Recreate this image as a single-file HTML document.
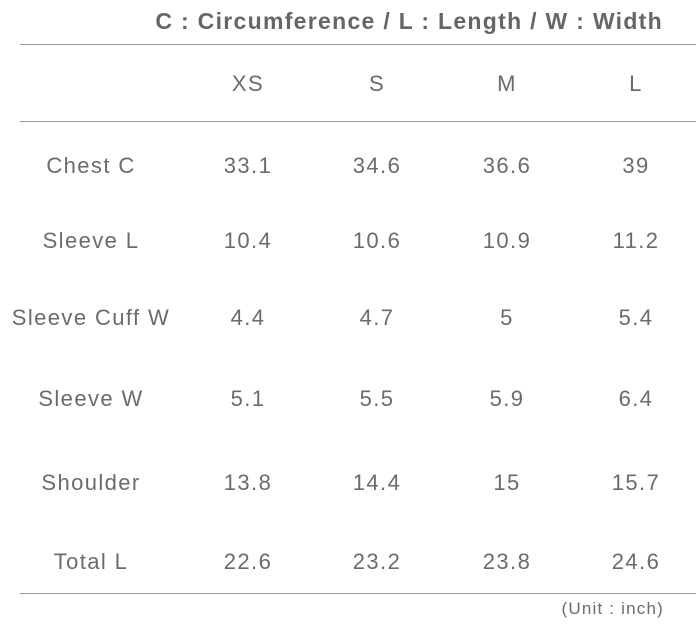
<!DOCTYPE html>
<html><head><meta charset="utf-8"><style>
body{margin:0;width:696px;height:630px;background:#fff;position:relative;overflow:hidden;font-family:"Liberation Sans","Noto Sans CJK KR",sans-serif;color:#6b6b6b}
.t{position:absolute;transform:translate(-50%,-50%);white-space:nowrap;font-size:22px;letter-spacing:1.4px}
.line{position:absolute;left:20px;width:676px;height:1px;background:#9a9a9a}
</style></head><body>
<div style="position:absolute;right:33px;top:8px;font-size:23px;font-weight:bold;color:#666;white-space:nowrap;letter-spacing:1.3px">C : Circumference / L : Length / W : Width</div>
<div class="line" style="top:44px"></div>
<div class="line" style="top:121px"></div>
<div class="line" style="top:593px"></div>
<div class="t" style="left:248px;top:84px">XS</div>
<div class="t" style="left:377px;top:84px">S</div>
<div class="t" style="left:507px;top:84px">M</div>
<div class="t" style="left:636px;top:84px">L</div>

<div class="t" style="left:91px;top:166px">Chest C</div>
<div class="t" style="left:248px;top:166px">33.1</div>
<div class="t" style="left:377px;top:166px">34.6</div>
<div class="t" style="left:507px;top:166px">36.6</div>
<div class="t" style="left:636px;top:166px">39</div>

<div class="t" style="left:91px;top:241px">Sleeve L</div>
<div class="t" style="left:248px;top:241px">10.4</div>
<div class="t" style="left:377px;top:241px">10.6</div>
<div class="t" style="left:507px;top:241px">10.9</div>
<div class="t" style="left:636px;top:241px">11.2</div>

<div class="t" style="left:91px;top:318px">Sleeve Cuff W</div>
<div class="t" style="left:248px;top:318px">4.4</div>
<div class="t" style="left:377px;top:318px">4.7</div>
<div class="t" style="left:507px;top:318px">5</div>
<div class="t" style="left:636px;top:318px">5.4</div>

<div class="t" style="left:91px;top:399px">Sleeve W</div>
<div class="t" style="left:248px;top:399px">5.1</div>
<div class="t" style="left:377px;top:399px">5.5</div>
<div class="t" style="left:507px;top:399px">5.9</div>
<div class="t" style="left:636px;top:399px">6.4</div>

<div class="t" style="left:91px;top:483px">Shoulder</div>
<div class="t" style="left:248px;top:483px">13.8</div>
<div class="t" style="left:377px;top:483px">14.4</div>
<div class="t" style="left:507px;top:483px">15</div>
<div class="t" style="left:636px;top:483px">15.7</div>

<div class="t" style="left:91px;top:562px">Total L</div>
<div class="t" style="left:248px;top:562px">22.6</div>
<div class="t" style="left:377px;top:562px">23.2</div>
<div class="t" style="left:507px;top:562px">23.8</div>
<div class="t" style="left:636px;top:562px">24.6</div>

<div style="position:absolute;right:32px;top:599px;font-size:17px;white-space:nowrap;letter-spacing:1.2px">(Unit : inch)</div>
</body></html>
